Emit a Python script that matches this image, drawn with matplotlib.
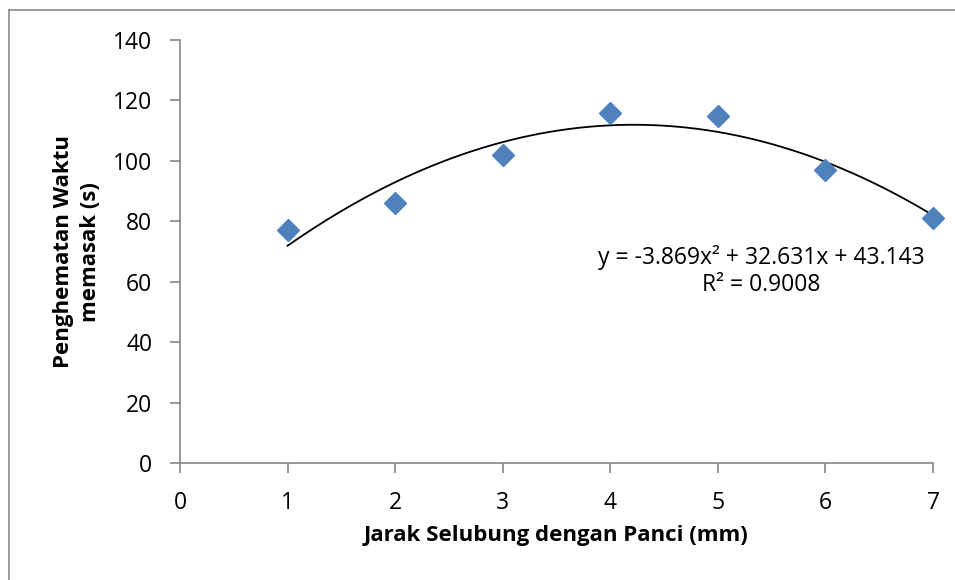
import numpy as np
import matplotlib
matplotlib.use("Agg")
import matplotlib.pyplot as plt
from matplotlib.lines import Line2D

plt.rcParams['font.family'] = ['Open Sans', 'DejaVu Sans']

# Measured data
jarak = [1, 2, 3, 4, 5, 6, 7]
penghematan = [77, 86, 102, 116, 115, 97, 81]

# Polynomial (order 2) trendline coefficients
coef = [-3.869, 32.631, 43.143]
r2 = 0.9008

x_ticks = [0, 1, 2, 3, 4, 5, 6, 7]
y_ticks = [0, 20, 40, 60, 80, 100, 120, 140]

W, H = 955, 580
fig = plt.figure(figsize=(W / 100, H / 100), dpi=100)
ax = fig.add_axes([180 / W, 1 - 463 / H, (933 - 180) / W, (463 - 40) / H])

# chart frame
frame_col = '#8c8c8c'
fig.add_artist(Line2D([9 / W, 1.0], [1 - 10 / H, 1 - 10 / H], transform=fig.transFigure,
                      color=frame_col, lw=1.2))
fig.add_artist(Line2D([9 / W, 9 / W], [0.0, 1 - 10 / H], transform=fig.transFigure,
                      color=frame_col, lw=1.2))

xs = np.linspace(1, 7, 200)
ax.plot(xs, np.polyval(coef, xs), color='black', lw=1.3, zorder=2)
ax.plot(jarak, penghematan, linestyle='none', marker='D', ms=11.5,
        color='#4F81BD', mec='#4F81BD', zorder=3, clip_on=False)

ax.set_xlim(0, 7)
ax.set_ylim(0, 140)
ax.set_xticks(x_ticks)
ax.set_yticks(y_ticks)

axis_col = '#868686'
for side in ['top', 'right']:
    ax.spines[side].set_visible(False)
for side in ['left', 'bottom']:
    ax.spines[side].set_color(axis_col)
    ax.spines[side].set_linewidth(1.2)
ax.tick_params(axis='both', direction='out', length=7, width=1.2, color=axis_col,
               labelsize=16.5, labelcolor='black')
ax.tick_params(axis='x', pad=13)
ax.tick_params(axis='y', pad=13)

fig.text(556 / W, 1 - 535 / H, 'Jarak Selubung dengan Panci (mm)', fontsize=16,
         fontweight='bold', ha='center', va='center')
fig.text(77 / W, 1 - 252 / H, 'Penghematan Waktu\nmemasak (s)', fontsize=16,
         fontweight='bold', ha='center', va='center', rotation=90, linespacing=1.35)

ax.text(5.4, 63.5, f'y = {coef[0]}x² + {coef[1]}x + {coef[2]}\nR² = {r2:.4f}',
        ha='center', va='center', fontsize=16.5, linespacing=1.2)

fig.savefig('out.png', dpi=100, facecolor='white')
